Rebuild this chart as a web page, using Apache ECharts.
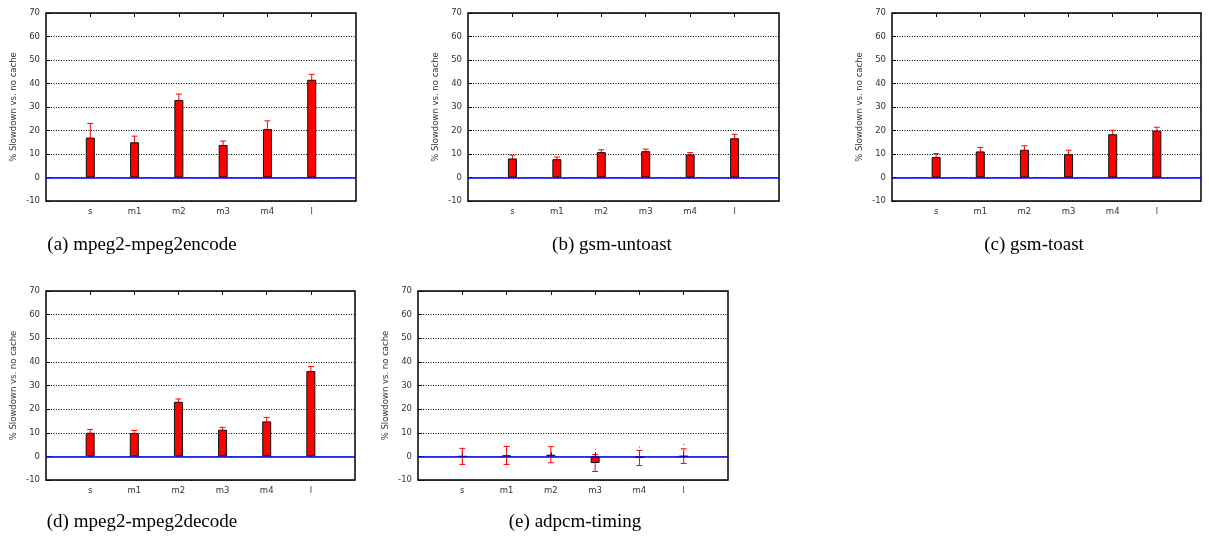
<!DOCTYPE html>
<html>
<head>
<meta charset="utf-8">
<script src="https://cdn.jsdelivr.net/npm/echarts@6/dist/echarts.min.js"></script>
<style>
  html, body { margin: 0; padding: 0; background: #fff; }
  #chart { width: 1209px; height: 546px; }
</style>
</head>
<body>
<div id="chart"></div>
<script>
// categories along x, one empty slot on each side like the original plot
const categories = ['s', 'm1', 'm2', 'm3', 'm4', 'l'];

// % slowdown and error (+/-) for each benchmark
const encodeValues = [17.0, 15.0, 33.0, 13.8, 20.6, 41.6];
const encodeErrors = [6.0, 2.6, 2.5, 1.7, 3.5, 2.3];
const untoastValues = [8.1, 7.8, 10.8, 11.2, 9.8, 16.7];
const untoastErrors = [1.4, 0.9, 1.0, 0.9, 0.8, 1.7];
const toastValues = [8.7, 11.1, 11.8, 9.9, 18.4, 19.9];
const toastErrors = [1.5, 1.7, 1.7, 1.7, 1.7, 1.5];
const decodeValues = [10.0, 9.9, 23.1, 11.3, 14.8, 36.1];
const decodeErrors = [1.4, 1.1, 1.2, 1.0, 1.7, 1.9];
const adpcmValues = [0.0, 0.4, 0.7, -2.8, -0.7, 0.1];
const adpcmErrors = [3.4, 3.8, 3.4, 3.6, 3.2, 3.1];

// little green dots gnuplot left in every panel
const markerValues = [0, 1, 2, 3, 4, 5];

const captions = [
  '(a) mpeg2-mpeg2encode',
  '(b) gsm-untoast',
  '(c) gsm-toast',
  '(d) mpeg2-mpeg2decode',
  '(e) adpcm-timing'
];

const panels = [
  { values: encodeValues, errors: encodeErrors, grid: { left: 46, top: 13, width: 310, height: 188 }, cap: [142, 245] },
  { values: untoastValues, errors: untoastErrors, grid: { left: 468, top: 13, width: 311, height: 188 }, cap: [612, 245] },
  { values: toastValues, errors: toastErrors, grid: { left: 892, top: 13, width: 309, height: 188 }, cap: [1034, 245] },
  { values: decodeValues, errors: decodeErrors, grid: { left: 46, top: 291, width: 309, height: 189 }, cap: [142, 522] },
  { values: adpcmValues, errors: adpcmErrors, grid: { left: 418, top: 291, width: 310, height: 189 }, cap: [575, 522] }
];

const axisData = [''].concat(categories, ['']);
const realTick = (idx, val) => val !== '';

const chart = echarts.init(document.getElementById('chart'));

const grid = [], xAxis = [], yAxis = [], series = [], graphic = [];

panels.forEach((p, i) => {
  grid.push(Object.assign({ show: true, borderColor: '#000', borderWidth: 1.5, backgroundColor: 'transparent' }, p.grid));

  xAxis.push({
    type: 'category', gridIndex: i, data: axisData, boundaryGap: false,
    axisLine: { show: false },
    axisTick: { show: true, inside: true, length: 4, interval: realTick, lineStyle: { color: '#000' } },
    axisLabel: { interval: realTick, fontSize: 8.5, color: '#333', fontFamily: 'DejaVu Sans', margin: 6 },
    splitLine: { show: false }
  });
  xAxis.push({
    type: 'category', gridIndex: i, data: axisData, boundaryGap: false, position: 'top',
    axisLine: { show: false },
    axisTick: { show: true, inside: true, length: 4, interval: realTick, lineStyle: { color: '#000' } },
    axisLabel: { show: false },
    splitLine: { show: false }
  });

  yAxis.push({
    type: 'value', gridIndex: i, min: -10, max: 70, interval: 10,
    name: '% Slowdown vs. no cache', nameLocation: 'middle', nameGap: 28, nameRotate: 90,
    nameTextStyle: { fontSize: 8.5, color: '#333', fontFamily: 'DejaVu Sans' },
    axisLine: { show: false },
    axisTick: { show: true, inside: true, length: 4, lineStyle: { color: '#000' } },
    axisLabel: { fontSize: 8.5, color: '#333', fontFamily: 'DejaVu Sans', margin: 6 },
    splitLine: { show: true, lineStyle: { color: '#000', type: [1, 1.5], width: 1 } }
  });

  const errData = p.values.map((v, k) => [k + 1, v - p.errors[k], v + p.errors[k]]);

  series.push({
    type: 'custom', xAxisIndex: 2 * i, yAxisIndex: i, z: 2, silent: true,
    data: errData,
    renderItem: (params, api) => {
      const x = api.value(0);
      const top = api.coord([x, api.value(2)]);
      const bot = api.coord([x, api.value(1)]);
      const hw = 3;
      const st = { stroke: '#ff0000', lineWidth: 1 };
      return {
        type: 'group', children: [
          { type: 'line', shape: { x1: top[0], y1: top[1], x2: bot[0], y2: bot[1] }, style: st },
          { type: 'line', shape: { x1: top[0] - hw, y1: top[1], x2: top[0] + hw, y2: top[1] }, style: st },
          { type: 'line', shape: { x1: bot[0] - hw, y1: bot[1], x2: bot[0] + hw, y2: bot[1] }, style: st }
        ]
      };
    }
  });

  series.push({
    type: 'bar', xAxisIndex: 2 * i, yAxisIndex: i, z: 3, silent: true,
    barWidth: 9,
    data: p.values.map((v, k) => [k + 1, v]),
    itemStyle: { color: '#ff0000', borderColor: '#111', borderWidth: 1 },
    markLine: {
      silent: true, symbol: 'none', label: { show: false },
      lineStyle: { color: '#0000ff', width: 1.5, type: 'solid' },
      data: [{ yAxis: 0 }]
    }
  });

  series.push({
    type: 'scatter', xAxisIndex: 2 * i, yAxisIndex: i, z: 4, silent: true,
    symbolSize: 1.5,
    data: markerValues.map((v, k) => [k + 1, v]),
    itemStyle: { color: '#00b000' }
  });

  graphic.push({
    type: 'text', x: p.cap[0], y: p.cap[1],
    style: {
      text: captions[i], fill: '#000', font: '19px "Liberation Serif"',
      textAlign: 'center', textVerticalAlign: 'middle'
    }
  });
});

chart.setOption({
  animation: false,
  grid: grid,
  xAxis: xAxis,
  yAxis: yAxis,
  series: series,
  graphic: graphic
});
</script>
</body>
</html>
